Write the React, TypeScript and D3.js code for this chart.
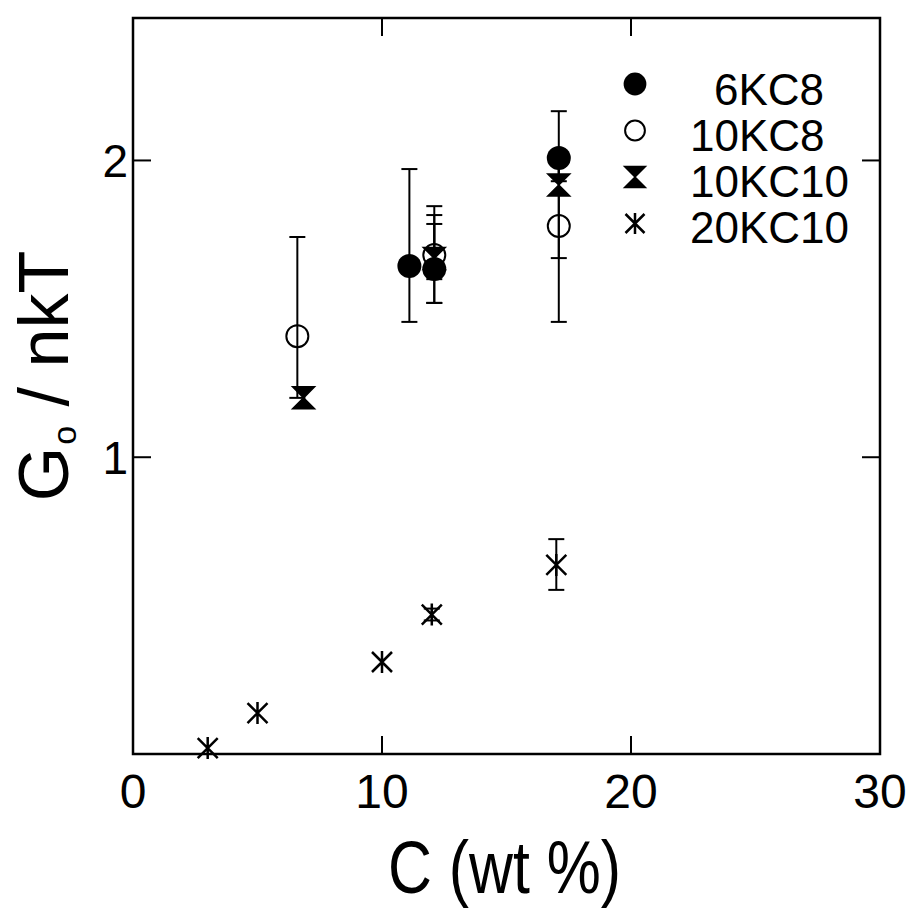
import React from "react";
import * as d3 from "d3";

// ---- data ----
const seriesNames = ["6KC8", "10KC8", "10KC10", "20KC10"];

const x6KC8 = [11.1, 12.1, 17.1];
const y6KC8 = [1.644, 1.634, 2.008];
const lo6KC8 = [1.456, 1.52, 1.93];
const hi6KC8 = [1.971, 1.786, 2.166];

const x10KC8 = [6.6, 12.1, 17.1];
const y10KC8 = [1.408, 1.681, 1.779];
const lo10KC8 = [1.2, 1.52, 1.456];
const hi10KC8 = [1.742, 1.846, 1.99];

const x10KC10 = [6.85, 12.1, 17.1];
const y10KC10 = [1.2, 1.67, 1.917];
const lo10KC10 = [1.2, 1.6, 1.671];
const hi10KC10 = [1.2, 1.816, 1.99];

const x20KC10 = [3, 5, 10, 12, 17];
const y20KC10 = [0.02, 0.138, 0.31, 0.47, 0.637];
const lo20KC10 = [0.02, 0.138, 0.31, 0.45, 0.553];
const hi20KC10 = [0.02, 0.138, 0.31, 0.49, 0.724];

const xTicks = [0, 10, 20, 30];
const yTicks = [1, 2];

type Pt = { x: number; y: number; lo: number; hi: number };
const zip = (xs: number[], ys: number[], los: number[], his: number[]): Pt[] =>
  xs.map((x, i) => ({ x, y: ys[i], lo: los[i], hi: his[i] }));

const series = [
  { name: seriesNames[0], kind: "filled", pts: zip(x6KC8, y6KC8, lo6KC8, hi6KC8) },
  { name: seriesNames[1], kind: "open", pts: zip(x10KC8, y10KC8, lo10KC8, hi10KC8) },
  { name: seriesNames[2], kind: "hourglass", pts: zip(x10KC10, y10KC10, lo10KC10, hi10KC10) },
  { name: seriesNames[3], kind: "asterisk", pts: zip(x20KC10, y20KC10, lo20KC10, hi20KC10) },
];

const FONT = "'Liberation Sans', Arial, Helvetica, sans-serif";

function Marker({ kind, cx, cy, s = 1 }: { kind: string; cx: number; cy: number; s?: number }) {
  if (kind === "filled") return <circle cx={cx} cy={cy} r={12 * s} fill="#000" />;
  if (kind === "open")
    return <circle cx={cx} cy={cy} r={11 * s} fill="none" stroke="#000" strokeWidth={2} />;
  if (kind === "hourglass") {
    const w = 11 * s, h = 11 * s;
    return (
      <path
        d={`M${cx - w},${cy - h}L${cx + w},${cy - h}L${cx},${cy}L${cx + w},${cy + h}L${cx - w},${cy + h}L${cx},${cy}Z`}
        fill="#000"
        stroke="#000"
        strokeWidth={1.5}
        strokeLinejoin="miter"
      />
    );
  }
  const a = 11 * s;
  const d = 10 * s;
  return (
    <path
      d={`M${cx},${cy - a}L${cx},${cy + a}M${cx - d},${cy - d}L${cx + d},${cy + d}M${cx - d},${cy + d}L${cx + d},${cy - d}`}
      stroke="#000"
      strokeWidth={2.5}
      fill="none"
    />
  );
}

export default function App() {
  const W = 913, H = 915;
  const left = 133, right = 880, top = 18, bottom = 754;
  const x = d3.scaleLinear().domain([0, 30]).range([left, right]);
  const y = d3.scaleLinear().domain([0, 2.48]).range([bottom, top]);
  const tickLen = 18;
  const capW = 8;

  return (
    <svg width={W} height={H} style={{ position: "absolute", left: 0, top: 0, background: "#fff" }}>
      <rect x={0} y={0} width={W} height={H} fill="#fff" />
      {/* frame */}
      <rect x={left} y={top} width={right - left} height={bottom - top} fill="none" stroke="#000" strokeWidth={2.5} />
      {/* x ticks */}
      {xTicks.map((t) => (
        <g key={"xt" + t}>
          {t > 0 && t < 30 && (
            <>
              <line x1={x(t)} x2={x(t)} y1={bottom} y2={bottom - tickLen} stroke="#000" strokeWidth={2} />
              <line x1={x(t)} x2={x(t)} y1={top} y2={top + tickLen} stroke="#000" strokeWidth={2} />
            </>
          )}
          <text x={x(t)} y={808} textAnchor="middle" fontFamily={FONT} fontSize={48}>
            {t}
          </text>
        </g>
      ))}
      {/* y ticks */}
      {yTicks.map((t) => (
        <g key={"yt" + t}>
          <line x1={left} x2={left + tickLen} y1={y(t)} y2={y(t)} stroke="#000" strokeWidth={2} />
          <line x1={right} x2={right - tickLen} y1={y(t)} y2={y(t)} stroke="#000" strokeWidth={2} />
          <text x={128} y={y(t) + 17} textAnchor="end" fontFamily={FONT} fontSize={46}>
            {t}
          </text>
        </g>
      ))}
      {/* axis titles */}
      <text
        x={(x(10) + x(20)) / 2 - 2}
        y={893}
        textAnchor="middle"
        fontFamily={FONT}
        fontSize={75}
        textLength={233}
        lengthAdjust="spacingAndGlyphs"
      >
        C (wt %)
      </text>
      <text
        transform={`translate(68,376) rotate(-90)`}
        textAnchor="middle"
        fontFamily={FONT}
        fontSize={70}
      >
        <tspan>G</tspan>
        <tspan fontSize={34} dy={8} dx={2}>o</tspan>
        <tspan dy={-8}>{" / nkT"}</tspan>
      </text>
      {/* error bars */}
      {series.map((s) =>
        s.pts
          .filter((p) => p.hi > p.lo)
          .map((p, i) => (
            <g key={s.name + "e" + i} stroke="#000" strokeWidth={2}>
              <line x1={x(p.x)} x2={x(p.x)} y1={y(p.lo)} y2={y(p.hi)} />
              <line x1={x(p.x) - capW} x2={x(p.x) + capW} y1={y(p.lo)} y2={y(p.lo)} />
              <line x1={x(p.x) - capW} x2={x(p.x) + capW} y1={y(p.hi)} y2={y(p.hi)} />
            </g>
          ))
      )}
      {/* markers */}
      {series.map((s) =>
        s.pts.map((p, i) => <Marker key={s.name + "m" + i} kind={s.kind} cx={x(p.x)} cy={y(p.y)} />)
      )}
      {/* legend */}
      {series.map((s, i) => (
        <g key={"lg" + s.name}>
          <Marker kind={s.kind} cx={635} cy={84 + i * 46.5} s={s.kind === "open" ? 0.9 : 0.95} />
          <text
            x={690 + (s.name.length === 4 ? 24 : 0)}
            y={105 + i * 46}
            fontFamily={FONT}
            fontSize={44}
          >
            {s.name}
          </text>
        </g>
      ))}
    </svg>
  );
}
